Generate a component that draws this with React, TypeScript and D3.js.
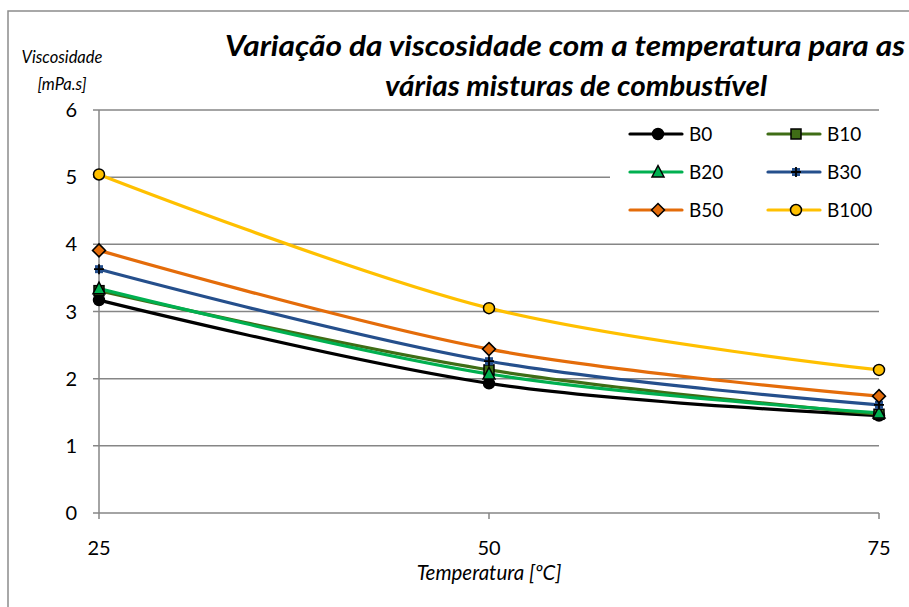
import React from "react";
import * as d3 from "d3";

const temperatures = [25, 50, 75];
const seriesNames = ["B0", "B10", "B20", "B30", "B50", "B100"];
const b0 = [3.17, 1.93, 1.45];
const b10 = [3.31, 2.13, 1.47];
const b20 = [3.34, 2.07, 1.49];
const b30 = [3.63, 2.26, 1.61];
const b50 = [3.91, 2.44, 1.74];
const b100 = [5.04, 3.05, 2.13];
const yTicks = [0, 1, 2, 3, 4, 5, 6];
const titleLines = ["Variação da viscosidade com a temperatura para as", "várias misturas de combustível"];
const yTitle = ["Viscosidade", "[mPa.s]"];
const xTitle = "Temperatura [ºC]";

const seriesValues = [b0, b10, b20, b30, b50, b100];
const colors = ["#000000", "#3f6d16", "#00b050", "#254f8c", "#e46c0a", "#ffc000"];
const markers = ["circle", "square", "triangle", "star", "diamond", "circleBig"];

const FONT = "Lato, 'Liberation Sans', sans-serif";

function Marker({ type, x, y, color }: { type: string; x: number; y: number; color: string }) {
  const sw = 1.5;
  if (type === "circle") return <circle cx={x} cy={y} r={5.5} fill="#000" stroke="#000" strokeWidth={sw} />;
  if (type === "circleBig") return <circle cx={x} cy={y} r={5.5} fill={color} stroke="#000" strokeWidth={sw} />;
  if (type === "square") return <rect x={x - 5} y={y - 5} width={10} height={10} fill={color} stroke="#000" strokeWidth={sw} />;
  if (type === "triangle")
    return <path d={`M${x},${y - 6.5}L${x + 6},${y + 5}L${x - 6},${y + 5}Z`} fill={color} stroke="#000" strokeWidth={sw} />;
  if (type === "diamond")
    return <path d={`M${x},${y - 6.5}L${x + 6.5},${y}L${x},${y + 6.5}L${x - 6.5},${y}Z`} fill={color} stroke="#000" strokeWidth={sw} />;
  return (
    <g>
      <rect x={x - 4} y={y - 4} width={8} height={8} fill={color} />
      <path d={`M${x - 5},${y}H${x + 5}M${x},${y - 5}V${y + 5}`} stroke="#000" strokeWidth={1.8} />
    </g>
  );
}

export default function App() {
  const x = d3.scaleLinear().domain([25, 75]).range([99, 879]);
  const y = d3.scaleLinear().domain([0, 6]).range([513, 110]);
  const line = d3
    .line<number>()
    .x((_, i) => x(temperatures[i]))
    .y((d) => y(d))
    .curve(d3.curveCardinal.tension(0));

  const legendPos = [
    [630, 134],
    [768, 134],
    [630, 172],
    [768, 172],
    [630, 210],
    [768, 210],
  ];

  return (
    <svg width={909} height={607} style={{ position: "absolute", left: 0, top: 0 }} fontFamily={FONT}>
      <rect x={0} y={0} width={909} height={607} fill="#fff" />
      <rect x={8} y={11} width={920} height={620} fill="#fff" stroke="#8c8c8c" strokeWidth={1.5} />
      {yTicks.map((t) => (
        <g key={t}>
          <line x1={93} x2={879} y1={y(t)} y2={y(t)} stroke="#868686" strokeWidth={1.5} />
          <text x={77} y={y(t)} dy="0.35em" textAnchor="end" fontSize={20} fill="#000">
            {t}
          </text>
        </g>
      ))}
      <line x1={99} x2={99} y1={y(6)} y2={y(0)} stroke="#868686" strokeWidth={1.5} />
      {temperatures.map((t) => (
        <g key={t}>
          <line x1={x(t)} x2={x(t)} y1={y(0)} y2={y(0) + 6} stroke="#868686" strokeWidth={1.5} />
          <text x={x(t)} y={548} dy="0.35em" textAnchor="middle" fontSize={20} fill="#000">
            {t}
          </text>
        </g>
      ))}
      <text x={489} y={573} dy="0.35em" textAnchor="middle" fontSize={20.5} fontStyle="italic" fill="#000">
        {xTitle}
      </text>
      <text x={62} y={57} dy="0.35em" textAnchor="middle" fontSize={16.5} fontStyle="italic" fill="#000">
        {yTitle[0]}
      </text>
      <text x={62} y={84} dy="0.35em" textAnchor="middle" fontSize={16.5} fontStyle="italic" fill="#000">
        {yTitle[1]}
      </text>
      <text x={565} y={46} dy="0.35em" textAnchor="middle" fontSize={28} fontWeight="bold" fontStyle="italic" fill="#000"
        textLength={680} lengthAdjust="spacingAndGlyphs">
        {titleLines[0]}
      </text>
      <text x={576} y={86} dy="0.35em" textAnchor="middle" fontSize={28} fontWeight="bold" fontStyle="italic" fill="#000"
        textLength={382} lengthAdjust="spacingAndGlyphs">
        {titleLines[1]}
      </text>
      <rect x={610} y={116} width={269} height={110} fill="#fff" />
      {seriesValues.map((vals, si) => (
        <path key={si} d={line(vals) || ""} fill="none" stroke={colors[si]} strokeWidth={3.2} strokeLinecap="round" />
      ))}
      {seriesValues.map((vals, si) => (
        <g key={"m" + si}>
          {vals.map((v, i) => (
            <Marker key={i} type={markers[si]} x={x(temperatures[i])} y={y(v)} color={colors[si]} />
          ))}
        </g>
      ))}
      {seriesNames.map((n, i) => {
        const [lx, ly] = legendPos[i];
        return (
          <g key={n}>
            <line x1={lx} x2={lx + 52} y1={ly} y2={ly} stroke={colors[i]} strokeWidth={3.2} strokeLinecap="round" />
            <Marker type={markers[i]} x={lx + 28} y={ly} color={colors[i]} />
            <text x={lx + 59} y={ly} dy="0.35em" fontSize={19} fill="#000">
              {n}
            </text>
          </g>
        );
      })}
    </svg>
  );
}
